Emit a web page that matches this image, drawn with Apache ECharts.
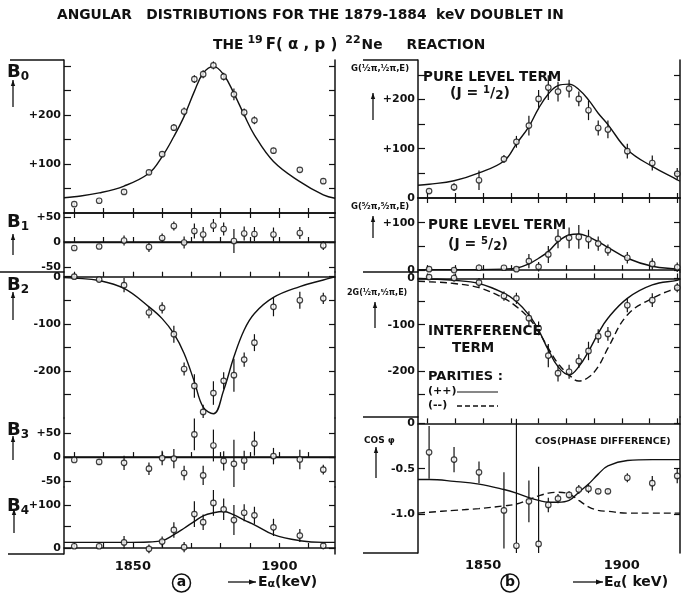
<!DOCTYPE html>
<html>
<head>
<meta charset="utf-8">
<script src="https://cdn.jsdelivr.net/npm/echarts@6/dist/echarts.min.js"></script>
<style>
  html, body { margin: 0; padding: 0; background: #fff; }
  #chart { width: 681px; height: 599px; }
</style>
</head>
<body>
<div id="chart"></div>
<script>
// energies of the measured points (keV), left column (a) and right column (b)
var EL = [1830, 1838.5, 1847, 1855.5, 1860, 1864, 1867.5, 1871, 1874, 1877.5, 1881, 1884.5, 1888, 1891.5, 1898, 1907, 1915];
var ER = [1830.5, 1839.5, 1848.5, 1857.5, 1862, 1866.5, 1870, 1873.5, 1877, 1881, 1884.5, 1888, 1891.5, 1895, 1902, 1911, 1920];
// energies where the fitted curves were read
var CL = [1826.5, 1830, 1838.5, 1847, 1855.5, 1860, 1864, 1867.5, 1871, 1874, 1877.5, 1881, 1884.5, 1888, 1891.5, 1898, 1907, 1915, 1919];
var CR = [1826.5, 1830.5, 1839.5, 1848.5, 1857.5, 1862, 1866.5, 1870, 1873.5, 1877, 1881, 1884.5, 1888, 1891.5, 1895, 1902, 1911, 1920, 1921];

// (a) Legendre coefficients
var B0_VAL = [18, 25, 43, 83, 120, 174, 207, 273, 283, 301, 278, 242, 205, 189, 127, 88, 65];
var B0_ERR = [4, 4, 5, 5, 6, 7, 8, 8, 8, 8, 8, 12, 8, 8, 6, 5, 5];
var B0_FIT = [31, 33, 41, 55, 81, 115, 156, 197, 248, 285, 299, 282, 244, 200, 159, 105, 64, 37, 30];

var B1_VAL = [-12, -9, 3, -10, 8, 32, -1, 22, 15, 33, 26, 2, 17, 16, 15, 18, -7];
var B1_ERR = [5, 5, 10, 10, 9, 9, 12, 15, 15, 13, 13, 24, 14, 14, 14, 12, 9];

var B2_VAL = [0, -6, -18, -76, -66, -122, -196, -232, -287, -247, -221, -209, -176, -140, -64, -50, -46];
var B2_ERR = [5, 6, 15, 12, 12, 18, 14, 25, 15, 25, 18, 35, 15, 18, 20, 18, 12];
var B2_FIT = [-2, -3, -8, -25, -64, -89, -121, -163, -223, -277, -291, -241, -170, -113, -78, -44, -21, -7, 0];

var B3_VAL = [-6, -10, -12, -24, -2, -3, -33, 47, -38, 24, -8, -14, -7, 28, 2, -5, -26];
var B3_ERR = [5, 6, 15, 13, 15, 20, 15, 33, 20, 33, 20, 50, 20, 25, 17, 20, 10];

var B4_VAL = [4, 4, 13, -2, 15, 42, 2, 79, 60, 105, 90, 65, 82, 76, 48, 29, 5];
var B4_ERR = [5, 6, 15, 10, 12, 18, 12, 30, 18, 30, 25, 35, 20, 20, 20, 15, 8];
var B4_FIT = [13, 13, 13, 13, 14, 17, 31, 46, 62, 75, 82, 85, 77, 65, 54, 31, 17, 13, 13];

// (b) level terms, interference term, cos(phase difference)
var G1_VAL = [14, 22, 36, 79, 114, 147, 201, 224, 216, 222, 201, 178, 142, 139, 95, 71, 49];
var G1_ERR = [5, 8, 20, 8, 12, 20, 18, 25, 20, 18, 15, 20, 15, 18, 15, 15, 12];
var G1_FIT = [26, 28, 35, 51, 75, 110, 145, 182, 211, 228, 231, 220, 199, 172, 149, 98, 64, 37, 34];

var G2_VAL = [2, 0, 5, 5, 2, 19, 7, 33, 66, 68, 70, 65, 56, 42, 26, 13, 6];
var G2_ERR = [5, 5, 7, 5, 5, 15, 10, 18, 20, 22, 25, 20, 15, 12, 12, 12, 10];
var G2_FIT = [1, 1, 1, 1, 2, 4, 13, 25, 39, 60, 74, 76, 70, 60, 48, 25, 8, 2, 1];

var INT_VAL = [3, 1, -9, -38, -43, -86, -108, -167, -205, -202, -179, -157, -125, -120, -58, -47, -20];
var INT_ERR = [6, 8, 10, 10, 12, 15, 15, 25, 18, 15, 15, 20, 15, 15, 15, 15, 10];
var INT_FIT_PP = [0, -1, -4, -11, -32, -50, -79, -112, -155, -191, -209, -191, -158, -119, -86, -43, -14, -4, -2];
var INT_FIT_MM = [-6, -7, -11, -20, -43, -61, -86, -115, -151, -184, -209, -222, -214, -191, -151, -79, -43, -20, -19];

var COS_VAL = [-0.32, -0.40, -0.54, -0.96, -1.35, -0.86, -1.33, -0.90, -0.83, -0.79, -0.73, -0.72, -0.75, -0.75, -0.60, -0.66, -0.58];
var COS_ERR = [0.29, 0.14, 0.12, 0.42, 1.40, 0.23, 0.85, 0.08, 0.05, 0.04, 0.05, 0.05, 0.03, 0.03, 0.05, 0.08, 0.08];
var COS_FIT_PP = [-0.62, -0.62, -0.64, -0.67, -0.73, -0.77, -0.82, -0.85, -0.87, -0.87, -0.85, -0.76, -0.67, -0.56, -0.47, -0.41, -0.40, -0.40, -0.40];
var COS_FIT_MM = [-0.99, -0.98, -0.96, -0.94, -0.91, -0.89, -0.84, -0.80, -0.77, -0.76, -0.78, -0.85, -0.92, -0.96, -0.97, -0.99, -0.99, -0.99, -0.99];

// tick labels and tick marks
var X_LABELS = [1850, 1900];
var XL_TICKS = [1830, 1840, 1850, 1860, 1870, 1880, 1890, 1900, 1910];
var XR_TICKS = [1830, 1840, 1850, 1860, 1870, 1880, 1890, 1900, 1910, 1920];
var B0_LABELS = [100, 200], B0_TICKS = [50, 100, 150, 200, 250, 300];
var B1_LABELS = [-50, 0, 50], B1_TICKS = [-50, 0, 50];
var B2_LABELS = [-200, -100, 0], B2_TICKS = [-250, -200, -150, -100, -50, 0];
var B3_LABELS = [-50, 0, 50], B3_TICKS = [-50, 0, 50];
var B4_LABELS = [0, 100], B4_TICKS = [0, 50, 100];
var G1_LABELS = [0, 100, 200], G1_TICKS = [50, 100, 150, 200, 250];
var G2_LABELS = [0, 100], G2_TICKS = [0, 50, 100];
var INT_LABELS = [-200, -100, 0], INT_TICKS = [-250, -200, -150, -100, -50, 0];
var COS_LABELS = [-1, -0.5, 0], COS_TICKS = [-1, -0.5, 0];

var INK = "#111";
var FONT = "DejaVu Sans";

function pts(xs, ys, es) {
    return xs.map(function (x, i) { return [x, ys[i], es[i]]; });
}
function crv(xs, ys) {
    return xs.map(function (x, i) { return [x, ys[i]]; });
}
function signed(v) {
    return v > 0 ? "+" + v : String(v);
}

var panels = [
    {g: [64, 60, 271, 153], x: [1826.5, 1919], y: [0, 312], ex: EL, v: B0_VAL, e: B0_ERR, fits: [crv(CL, B0_FIT)], yl: B0_LABELS, yt: B0_TICKS, xt: XL_TICKS, top: true},
    {g: [64, 213, 271, 59], x: [1826.5, 1919], y: [-60, 58], ex: EL, v: B1_VAL, e: B1_ERR, fits: [], zero: true, yl: B1_LABELS, yt: B1_TICKS, xt: XL_TICKS},
    {g: [64, 272, 271, 146], x: [1826.5, 1919], y: [-300, 10], ex: EL, v: B2_VAL, e: B2_ERR, fits: [crv(CL, B2_FIT)], yl: B2_LABELS, yt: B2_TICKS, xt: XL_TICKS},
    {g: [64, 418, 271, 69], x: [1826.5, 1919], y: [-62, 81], ex: EL, v: B3_VAL, e: B3_ERR, fits: [], zero: true, yl: B3_LABELS, yt: B3_TICKS, xt: XL_TICKS},
    {g: [64, 487, 271, 67], x: [1826.5, 1919], y: [-14, 142], ex: EL, v: B4_VAL, e: B4_ERR, fits: [crv(CL, B4_FIT)], yl: B4_LABELS, yt: B4_TICKS, xt: XL_TICKS, bottom: true},
    {g: [418, 60, 262, 138], x: [1826.5, 1921], y: [0, 280], ex: ER, v: G1_VAL, e: G1_ERR, fits: [crv(CR, G1_FIT)], yl: G1_LABELS, yt: G1_TICKS, xt: XR_TICKS, top: true},
    {g: [418, 198, 262, 74], x: [1826.5, 1921], y: [-4, 152], ex: ER, v: G2_VAL, e: G2_ERR, fits: [crv(CR, G2_FIT)], yl: G2_LABELS, yt: G2_TICKS, xt: XR_TICKS},
    {g: [418, 272, 262, 145], x: [1826.5, 1921], y: [-300, 14], ex: ER, v: INT_VAL, e: INT_ERR, fits: [crv(CR, INT_FIT_PP), crv(CR, INT_FIT_MM)], yl: INT_LABELS, yt: INT_TICKS, xt: XR_TICKS},
    {g: [418, 417, 262, 136], x: [1826.5, 1921], y: [-1.43, 0.07], ex: ER, v: COS_VAL, e: COS_ERR, fits: [crv(CR, COS_FIT_PP), crv(CR, COS_FIT_MM)], yl: COS_LABELS, yt: COS_TICKS, xt: XR_TICKS, bottom: true, cos: true}
];

function renderErr(params, api) {
    var x = api.value(0), y = api.value(1), e = api.value(2);
    var p1 = api.coord([x, y + e]);
    var p2 = api.coord([x, y - e]);
    var cs = params.coordSys;
    var y1 = Math.max(p1[1], cs.y), y2 = Math.min(p2[1], cs.y + cs.height);
    return {type: "line", shape: {x1: p1[0], y1: y1, x2: p2[0], y2: y2}, style: {stroke: INK, lineWidth: 1.2}};
}

var grids = [], xAxes = [], yAxes = [], series = [];
var axisLine = {show: true, lineStyle: {color: INK, width: 1.5}};

panels.forEach(function (p, i) {
    grids.push({left: p.g[0], top: p.g[1], width: p.g[2], height: p.g[3]});
    xAxes.push({
        type: "value", gridIndex: i, min: p.x[0], max: p.x[1], position: "bottom",
        axisLine: axisLine, splitLine: {show: false},
        axisTick: {inside: true, length: 5, customValues: p.xt, lineStyle: {color: INK, width: 1.2}},
        axisLabel: {show: !!p.bottom, customValues: X_LABELS, color: INK, fontFamily: FONT, fontWeight: "bold", fontSize: 13, margin: 6,
            formatter: function (v) { return String(v); }}
    });
    var yiLeft = yAxes.length;
    yAxes.push({
        type: "value", gridIndex: i, min: p.y[0], max: p.y[1], position: "left",
        axisLine: axisLine, splitLine: {show: false},
        axisTick: {inside: true, length: 7, customValues: p.yt, lineStyle: {color: INK, width: 1.2}},
        axisLabel: {
            customValues: p.yl, color: INK, fontFamily: FONT, fontWeight: "bold", fontSize: 11, margin: 3,
            formatter: p.cos ? function (v) { return v === 0 ? "0" : v.toFixed(1); } : signed
        }
    });
    yAxes.push({
        type: "value", gridIndex: i, min: p.y[0], max: p.y[1], position: "right",
        axisLine: axisLine, splitLine: {show: false}, axisLabel: {show: false},
        axisTick: {inside: true, length: 6, customValues: p.yt, lineStyle: {color: INK, width: 1.2}}
    });
    if (p.top) {
        xAxes.push({
            type: "value", gridIndex: i, min: p.x[0], max: p.x[1], position: "top",
            axisLine: axisLine, splitLine: {show: false}, axisLabel: {show: false},
            axisTick: {inside: true, length: 5, customValues: p.xt, lineStyle: {color: INK, width: 1.2}}
        });
    }
    var xi = xAxes.length - (p.top ? 2 : 1);

    p.fits.forEach(function (f, k) {
        series.push({
            type: "line", xAxisIndex: xi, yAxisIndex: yiLeft, data: f, smooth: 0.4,
            showSymbol: false, silent: true, z: 3,
            lineStyle: {color: INK, width: 1.4, type: k === 1 ? [7, 4] : "solid"}
        });
    });
    if (p.zero) {
        series.push({
            type: "line", xAxisIndex: xi, yAxisIndex: yiLeft, data: [], silent: true,
            markLine: {symbol: "none", silent: true, label: {show: false},
                lineStyle: {color: INK, width: 1.4, type: "solid"}, data: [{yAxis: 0}]}
        });
    }
    var d = pts(p.ex, p.v, p.e);
    series.push({type: "custom", xAxisIndex: xi, yAxisIndex: yiLeft, data: d, renderItem: renderErr, z: 4, silent: true});
    series.push({
        type: "scatter", xAxisIndex: xi, yAxisIndex: yiLeft, data: d, symbol: "circle", symbolSize: 5.5, z: 5, silent: true,
        itemStyle: {color: "#fff", borderColor: INK, borderWidth: 1.2}
    });
});

// annotations
function txt(x, y, text, size, rich, extra) {
    var s = {x: x, y: y, text: text, fill: INK, font: "bold " + size + "px '" + FONT + "'", textVerticalAlign: "middle"};
    if (rich) s.rich = rich;
    if (extra) for (var k in extra) s[k] = extra[k];
    return {type: "text", style: s, z: 10};
}
function seg(x1, y1, x2, y2, w, dash) {
    return {type: "line", shape: {x1: x1, y1: y1, x2: x2, y2: y2}, style: {stroke: INK, lineWidth: w || 1.5, lineDash: dash || null}, z: 10};
}
function upArrow(x, y1, y2) {
    return [seg(x, y1, x, y2, 1.3),
        {type: "polygon", shape: {points: [[x - 2.2, y1 + 6], [x + 2.2, y1 + 6], [x, y1]]}, style: {fill: INK}, z: 10}];
}
function rightArrow(x1, x2, y) {
    return [seg(x1, y, x2, y, 1.3),
        {type: "polygon", shape: {points: [[x2 - 7, y - 2.5], [x2 - 7, y + 2.5], [x2, y]]}, style: {fill: INK}, z: 10}];
}
var subRich = {
    b: {fontFamily: FONT, fontWeight: "bold", fontSize: 18, color: INK},
    s: {fontFamily: FONT, fontWeight: "bold", fontSize: 12, color: INK, padding: [9, 0, 0, 0]}
};
var titleRich = {
    t: {fontFamily: FONT, fontWeight: "bold", fontSize: 13.8, color: INK},
    f: {fontFamily: FONT, fontWeight: "bold", fontSize: 15, color: INK, padding: [0, 4, 0, 2]},
    u: {fontFamily: FONT, fontWeight: "bold", fontSize: 11, color: INK, padding: [0, 1, 9, 4]}
};
var fracRich = {
    t: {fontFamily: FONT, fontWeight: "bold", fontSize: 14, color: INK},
    u: {fontFamily: FONT, fontWeight: "bold", fontSize: 10, color: INK, padding: [0, 0, 6, 0]},
    d: {fontFamily: FONT, fontWeight: "bold", fontSize: 12, color: INK, padding: [5, 0, 0, 0]}
};
var eRich = {
    t: {fontFamily: FONT, fontWeight: "bold", fontSize: 14, color: INK},
    s: {fontFamily: FONT, fontWeight: "bold", fontSize: 11, color: INK, padding: [5, 0, 0, 0]}
};

var graphics = [
    txt(57, 15, "{t|ANGULAR   DISTRIBUTIONS FOR THE 1879-1884  keV DOUBLET IN}", 14, titleRich),
    txt(213, 45, "{t|THE}{u|19}{f|F( α , p )}{u|22}{t|Ne     REACTION}", 14, titleRich),
    txt(7, 72, "{b|B}{s|0}", 18, subRich),
    txt(7, 222, "{b|B}{s|1}", 18, subRich),
    txt(7, 285, "{b|B}{s|2}", 18, subRich),
    txt(7, 430, "{b|B}{s|3}", 18, subRich),
    txt(7, 506, "{b|B}{s|4}", 18, subRich),
    seg(10, 60, 64, 60), seg(0, 272, 64, 272), seg(8, 554, 64, 554),
    seg(363, 60, 418, 60), seg(363, 272, 418, 272), seg(363, 417, 418, 417), seg(363, 553, 418, 553),
    txt(351, 69, "G(½π,½π,E)", 8.5),
    txt(423, 77, "PURE LEVEL TERM", 13.5),
    txt(450, 93, "{t|(J = }{u|1}{t|/}{d|2}{t|)}", 14, fracRich),
    txt(351, 207, "G(⁵⁄₂π,⁵⁄₂π,E)", 8.5),
    txt(428, 225, "PURE LEVEL TERM", 13.5),
    txt(448, 244, "{t|(J = }{u|5}{t|/}{d|2}{t|)}", 14, fracRich),
    txt(347, 293, "2G(½π,⁵⁄₂π,E)", 8),
    txt(428, 331, "INTERFERENCE", 13.5),
    txt(452, 348, "TERM", 13.5),
    txt(428, 377, "PARITIES :", 13),
    txt(428, 391, "(++)", 11), seg(457, 392, 498, 392, 1.2),
    txt(428, 405, "(--)", 11), seg(457, 406, 498, 406, 1.4, [5, 3]),
    txt(364, 441, "COS φ", 9),
    txt(535, 442, "COS(PHASE DIFFERENCE)", 9.5),
    txt(258, 582, "{t|E}{s|α}{t|(keV)}", 14, eRich),
    txt(604, 582, "{t|E}{s|α}{t|( keV)}", 14, eRich),
    {type: "circle", shape: {cx: 181.5, cy: 583, r: 9}, style: {fill: "none", stroke: INK, lineWidth: 1.5}, z: 10},
    txt(181.5, 582, "a", 14, null, {textAlign: "center"}),
    {type: "circle", shape: {cx: 510, cy: 583, r: 9}, style: {fill: "none", stroke: INK, lineWidth: 1.5}, z: 10},
    txt(510, 582, "b", 14, null, {textAlign: "center"})
];
graphics = graphics
    .concat(upArrow(13, 80, 107), upArrow(13, 234, 255), upArrow(13, 292, 320), upArrow(13, 436, 460), upArrow(14, 509, 533))
    .concat(upArrow(373, 93, 120), upArrow(373, 216, 238), upArrow(375, 302, 328), upArrow(376, 447, 478))
    .concat(rightArrow(228, 256, 582), rightArrow(573, 603, 582));

var chart = echarts.init(document.getElementById("chart"), null, {renderer: "canvas"});
chart.setOption({
    backgroundColor: "#fff",
    animation: false,
    grid: grids,
    xAxis: xAxes,
    yAxis: yAxes,
    series: series,
    graphic: graphics
});
</script>
</body>
</html>
